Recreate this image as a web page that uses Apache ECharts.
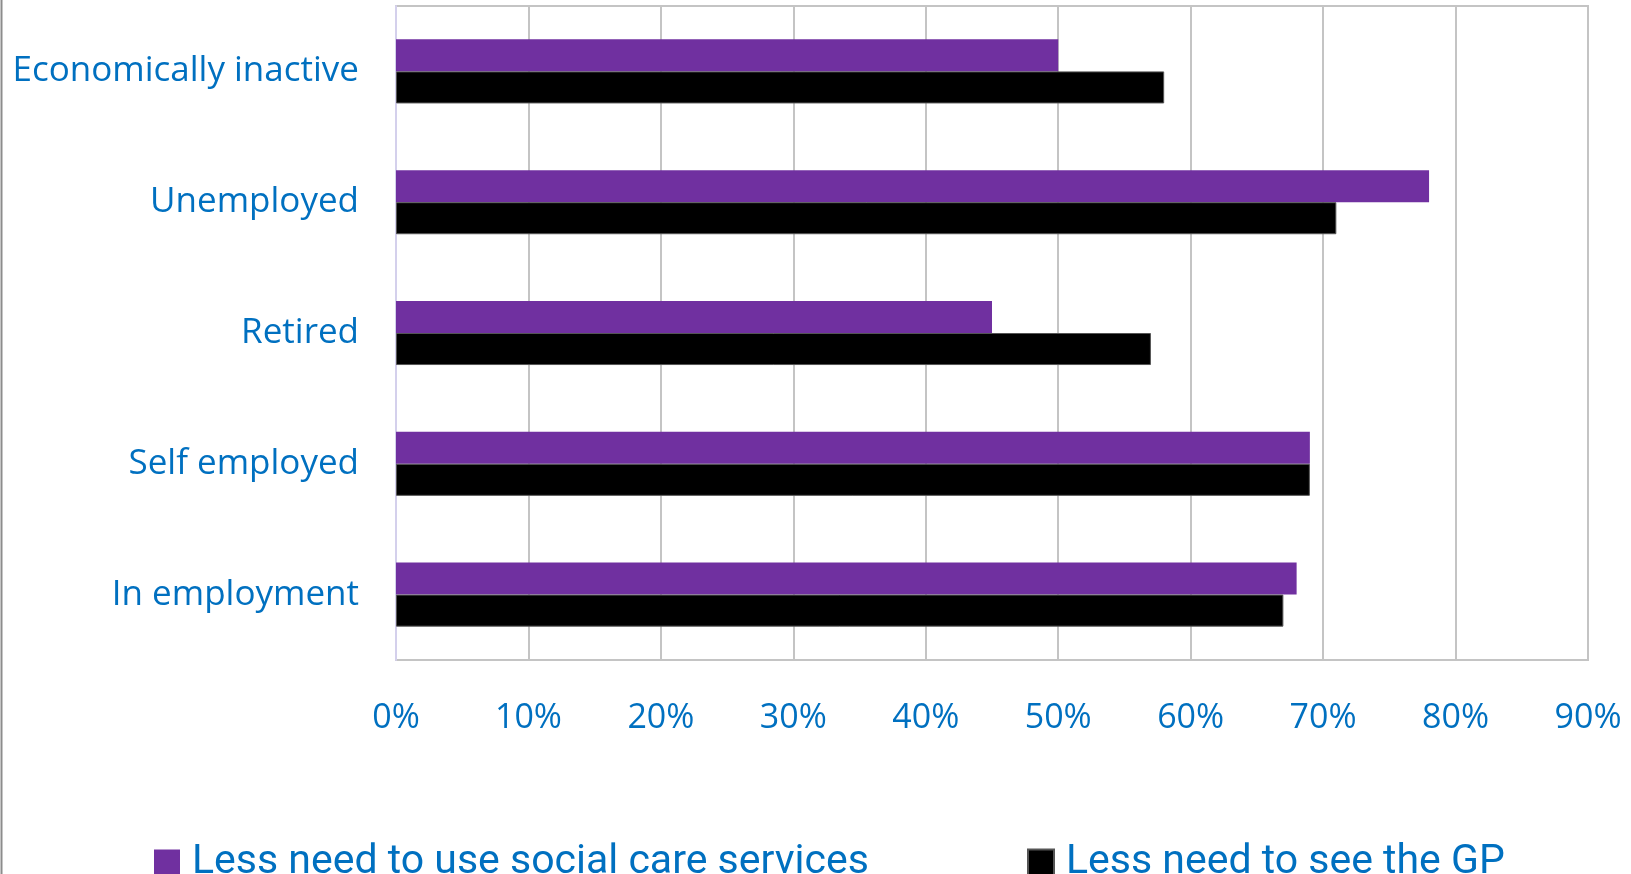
<!DOCTYPE html>
<html>
<head>
<meta charset="utf-8">
<title>Less need for services by employment status</title>
<script src="https://cdn.jsdelivr.net/npm/echarts@6/dist/echarts.min.js"></script>
<style>
  html, body { margin: 0; padding: 0; background: #ffffff; }
  #chart { width: 1631px; height: 874px; }
</style>
</head>
<body>
<div id="chart"></div>
<script>
// Employment groups, listed from the bottom of the axis to the top
var categories = ['In employment', 'Self employed', 'Retired', 'Unemployed', 'Economically inactive'];

// Share of respondents (%) in each group
var socialCareValues = [68, 69, 45, 78, 50];
var gpValues = [67, 69, 57, 71, 58];

var seriesNames = ['Less need to use social care services', 'Less need to see the GP'];

var xTickMin = 0;
var xTickMax = 90;
var xTickStep = 10;

var textBlue = '#0070C0';
var labelFont = '"Open Sans", "Noto Sans", sans-serif';
var legendFont = 'Roboto, "Liberation Sans", sans-serif';

// extra left padding widens the gap between the swatch and its text
var legendText = { color: textBlue, fontSize: 41, fontFamily: legendFont, padding: [0, 0, 0, 7] };

var chart = echarts.init(document.getElementById('chart'), null, { renderer: 'canvas' });

chart.setOption({
  backgroundColor: '#ffffff',
  animation: false,
  grid: {
    left: 396,
    right: 43,
    top: 6,
    bottom: 214,
    show: true,
    borderColor: '#c4c4c4',
    borderWidth: 2
  },
  legend: [
    {
      data: [seriesNames[0]],
      left: 154,
      top: 842,
      padding: 0,
      itemWidth: 26,
      itemHeight: 26,
      itemGap: 12,
      icon: 'rect',
      textStyle: legendText
    },
    {
      data: [seriesNames[1]],
      left: 1027,
      top: 842,
      padding: 0,
      itemWidth: 26,
      itemHeight: 26,
      itemGap: 12,
      icon: 'rect',
      textStyle: legendText
    }
  ],
  xAxis: {
    type: 'value',
    min: xTickMin,
    max: xTickMax,
    interval: xTickStep,
    axisLine: { show: false },
    axisTick: { show: false },
    splitLine: { show: true, lineStyle: { color: '#c4c4c4', width: 2 } },
    axisLabel: {
      color: textBlue,
      fontSize: 34,
      fontFamily: labelFont,
      margin: 41,
      formatter: '{value}%'
    }
  },
  yAxis: {
    type: 'category',
    data: categories,
    axisLine: { show: true, lineStyle: { color: '#d4d0ec', width: 2 } },
    axisTick: { show: false },
    splitLine: { show: false },
    axisLabel: {
      color: textBlue,
      fontSize: 35,
      fontFamily: labelFont,
      margin: 37
    }
  },
  series: [
    {
      name: seriesNames[0],
      type: 'bar',
      data: socialCareValues,
      barGap: '0%',
      barCategoryGap: '51%',
      itemStyle: { color: '#7030A0' }
    },
    {
      name: seriesNames[1],
      type: 'bar',
      data: gpValues,
      barGap: '0%',
      barCategoryGap: '51%',
      itemStyle: { color: '#000000', borderColor: '#555555', borderWidth: 1 }
    }
  ],
  graphic: [
    {
      type: 'line',
      shape: { x1: 1.5, y1: 0, x2: 1.5, y2: 874 },
      style: { stroke: '#8c8c8c', lineWidth: 2 },
      silent: true
    }
  ]
});
</script>
</body>
</html>
